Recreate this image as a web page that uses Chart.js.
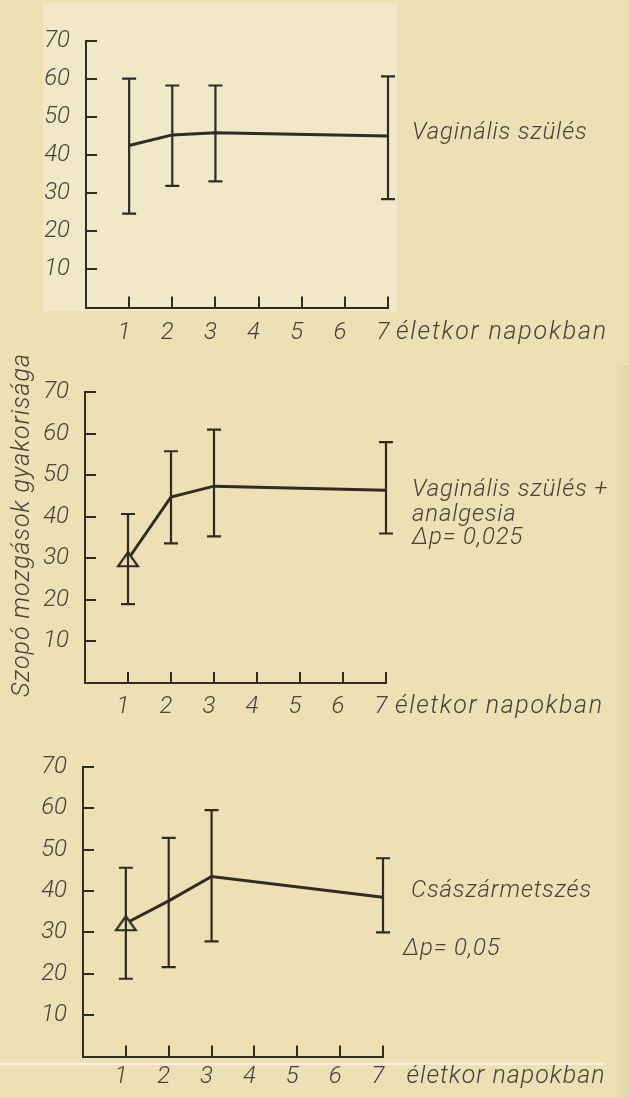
<!DOCTYPE html>
<html>
<head>
<meta charset="utf-8">
<script src="https://cdn.jsdelivr.net/npm/chart.js@4.4.0/dist/chart.umd.min.js"></script>
<style>
  body { margin: 0; background: #ece0b4; width: 629px; height: 1098px; overflow: hidden; position: relative; }
  .box { position: absolute; left: 43px; top: 3px; width: 354px; height: 308px; background: #f1e8c8; }
  .edge { position: absolute; left: 614px; top: 365px; width: 15px; height: 733px;
          background: linear-gradient(to right, rgba(200,190,150,0), rgba(200,190,150,.35)); }
  .scan { position: absolute; left: 0; top: 1063px; width: 605px; height: 2px; background: #f7f2e0; }
  canvas { position: absolute; left: 0; }
</style>
</head>
<body>
<div class="box"></div>
<div class="edge"></div>
<canvas id="c1" width="629" height="350" style="top:0px"></canvas>
<canvas id="c2" width="629" height="385" style="top:340px"></canvas>
<canvas id="c3" width="629" height="373" style="top:725px"></canvas>
<div class="scan"></div>
<script>
// days of life with measurements
const days = [1, 2, 3, 7];
const xTicks = [1, 2, 3, 4, 5, 6, 7];
const yTicks = [10, 20, 30, 40, 50, 60, 70];

// Vaginális szülés
const vagMean = [42.6, 45.4, 46.0, 45.1];
const vagHigh = [60.2, 58.4, 58.4, 60.8];
const vagLow = [24.7, 32.0, 33.2, 28.5];

// Vaginális szülés + analgesia
const anaMean = [29.8, 44.8, 47.4, 46.4];
const anaHigh = [40.7, 55.8, 61.0, 58.0];
const anaLow = [19.0, 33.6, 35.3, 36.0];

// Császármetszés
const csMean = [32.2, 37.6, 43.5, 38.5];
const csHigh = [45.6, 52.8, 59.5, 47.9];
const csLow = [18.8, 21.6, 27.8, 30.0];

const ink = '#2e2c25';
const textInk = '#45423a';
const fontFam = 'Roboto, "DejaVu Sans", sans-serif';
const tickFont = { family: fontFam, size: 24, style: 'italic', weight: 300 };

function makeTriangle() {
    const c = document.createElement('canvas');
    c.width = 24;
    c.height = 18;
    const g = c.getContext('2d');
    g.beginPath();
    g.moveTo(12, 2);
    g.lineTo(22, 16);
    g.lineTo(2, 16);
    g.closePath();
    g.fillStyle = '#ece0b4';
    g.fill();
    g.lineWidth = 2.2;
    g.strokeStyle = ink;
    g.stroke();
    return c;
}
const tri = makeTriangle();

function makePanel(id, p) {
    const canvas = document.getElementById(id);
    const H = canvas.height;

    const extras = {
        id: 'extras',
        afterDatasetsDraw(chart) {
            const { ctx, scales: { x, y } } = chart;
            ctx.save();
            // error bars
            ctx.strokeStyle = ink;
            ctx.lineWidth = 2.2;
            days.forEach((d, i) => {
                const px = x.getPixelForValue(d);
                const top = y.getPixelForValue(p.high[i]);
                const bot = y.getPixelForValue(p.low[i]);
                ctx.beginPath();
                ctx.moveTo(px, top); ctx.lineTo(px, bot);
                ctx.moveTo(px - 7, top); ctx.lineTo(px + 7, top);
                ctx.moveTo(px - 7, bot); ctx.lineTo(px + 7, bot);
                ctx.stroke();
            });
            // labels beside the curves
            ctx.fillStyle = textInk;
            ctx.textBaseline = 'middle';
            ctx.textAlign = 'left';
            ctx.font = `italic 300 24px ${fontFam}`;
            ctx.letterSpacing = '0.8px';
            p.notes.forEach(n => ctx.fillText(n.text, x.right + n.dx, y.getPixelForValue(n.at)));
            // x axis title on the tick label line
            ctx.font = `italic 300 25px ${fontFam}`;
            ctx.letterSpacing = p.titleSpacing;
            ctx.fillText('életkor napokban', x.right + p.titleDx, y.bottom + p.labelGap);
            // y axis title (middle panel only)
            if (p.yTitle) {
                ctx.translate(23, p.yTitle);
                ctx.rotate(-Math.PI / 2);
                ctx.textAlign = 'center';
                ctx.font = `italic 300 25px ${fontFam}`;
                ctx.letterSpacing = '1px';
                ctx.fillText('Szopó mozgások gyakorisága', 0, 0);
            }
            ctx.restore();
        }
    };

    return new Chart(canvas, {
        type: 'line',
        data: {
            datasets: [{
                data: days.map((d, i) => ({ x: d, y: p.mean[i] })),
                borderColor: ink,
                borderWidth: 3,
                tension: 0,
                fill: false,
                pointRadius: days.map((d, i) => (i === 0 && p.triangle) ? 9 : 0),
                pointStyle: days.map((d, i) => (i === 0 && p.triangle) ? tri : 'circle'),
                pointHoverRadius: 0
            }]
        },
        options: {
            responsive: false,
            animation: false,
            devicePixelRatio: 1,
            layout: { padding: { left: 0, right: 629 - p.x7, top: p.top, bottom: 0 } },
            plugins: { legend: { display: false }, tooltip: { enabled: false } },
            scales: {
                x: {
                    type: 'linear',
                    min: 0,
                    max: 7,
                    afterBuildTicks: s => { s.ticks = xTicks.map(v => ({ value: v })); },
                    afterFit: s => { s.height = H - p.bottom; },
                    border: { color: ink, width: 2 },
                    grid: { drawOnChartArea: false, drawTicks: true, tickLength: -11, color: ink, lineWidth: 2 },
                    ticks: { padding: p.labelGap - 3.4, labelOffset: -5, color: textInk, font: tickFont, maxRotation: 0, autoSkip: false }
                },
                y: {
                    min: 0,
                    max: 70,
                    afterBuildTicks: s => { s.ticks = yTicks.map(v => ({ value: v })); },
                    afterFit: s => { s.width = p.axisX; },
                    border: { color: ink, width: 2 },
                    grid: { drawOnChartArea: false, drawTicks: true, tickLength: -11, color: ink, lineWidth: 2 },
                    ticks: { padding: 27, color: textInk, font: tickFont }
                }
            }
        },
        plugins: [extras]
    });
}

makePanel('c1', {
    mean: vagMean, high: vagHigh, low: vagLow, triangle: false,
    axisX: 86, x7: 388, top: 19, bottom: 307.5, labelGap: 25, titleDx: 8, titleSpacing: '1.8px',
    notes: [{ text: 'Vaginális szülés', at: 46.0, dx: 24 }]
});

makePanel('c2', {
    mean: anaMean, high: anaHigh, low: anaLow, triangle: true,
    axisX: 85, x7: 386, top: 52.3, bottom: 343, labelGap: 24, titleDx: 9, titleSpacing: '1.6px', yTitle: 185,
    notes: [
        { text: 'Vaginális szülés +', at: 46.4, dx: 26 },
        { text: 'analgesia', at: 40.4, dx: 26 },
        { text: 'Δp= 0,025', at: 34.9, dx: 26 }
    ]
});

makePanel('c3', {
    mean: csMean, high: csHigh, low: csLow, triangle: true,
    axisX: 83, x7: 383, top: 41.7, bottom: 336.5, labelGap: 20, titleDx: 23.5, titleSpacing: '1px',
    notes: [
        { text: 'Császármetszés', at: 40.0, dx: 28 },
        { text: 'Δp= 0,05', at: 26.0, dx: 20 }
    ]
});
</script>
</body>
</html>
